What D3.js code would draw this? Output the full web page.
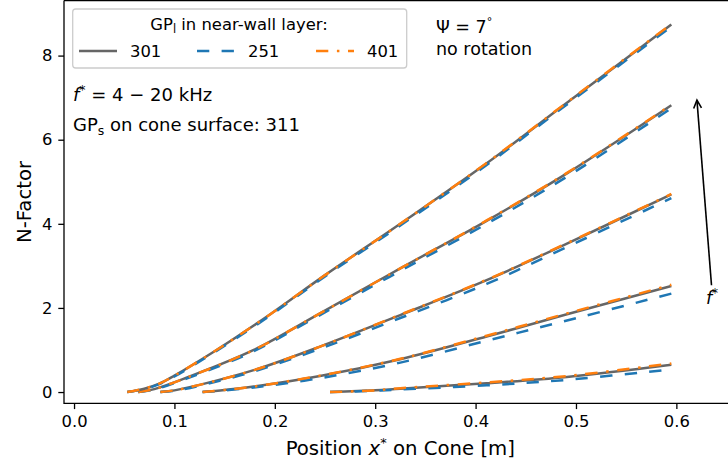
<!DOCTYPE html>
<html>
<head>
<meta charset="utf-8">
<script src="https://cdn.jsdelivr.net/npm/d3@7"></script>
<style>
body { margin: 0; background: #fff; }
text { font-family: "DejaVu Sans", sans-serif; fill: #000; }
</style>
</head>
<body>
<script>
// tick values
const xTicks = [0.0, 0.1, 0.2, 0.3, 0.4, 0.5, 0.6];
const yTicks = [0, 2, 4, 6, 8];

// legend entries: grid points in near-wall layer
const gpLabels = ["301", "251", "401"];
const gpColors = ["#666666", "#1f77b4", "#ff7f0e"];
const gpDashes = [null, "12.3,12.3", "12.3,8.6,2.5,8.6"];

// N-factor curves, one per frequency (lowest f* first -> highest)
const xPos1 = [0.255, 0.30, 0.325, 0.411, 0.491, 0.595];
const n301_1 = [0, 0.04, 0.08, 0.21, 0.36, 0.65];
const n251_1 = [0, 0.03, 0.06, 0.16, 0.29, 0.54];
const n401_1 = [0, 0.04, 0.09, 0.23, 0.38, 0.68];

const xPos2 = [0.128, 0.15, 0.179, 0.245, 0.325, 0.411, 0.491, 0.595];
const n301_2 = [0, 0.05, 0.13, 0.38, 0.78, 1.32, 1.85, 2.52];
const n251_2 = [0, 0.04, 0.11, 0.33, 0.70, 1.22, 1.70, 2.34];
const n401_2 = [0, 0.05, 0.13, 0.39, 0.79, 1.34, 1.87, 2.55];

const xPos3 = [0.086, 0.10, 0.125, 0.179, 0.245, 0.325, 0.411, 0.491, 0.595];
const n301_3 = [0, 0.04, 0.17, 0.52, 1.08, 1.83, 2.66, 3.53, 4.70];
const n251_3 = [0, 0.03, 0.15, 0.49, 1.03, 1.76, 2.57, 3.45, 4.61];
const n401_3 = [0, 0.04, 0.17, 0.52, 1.08, 1.84, 2.67, 3.54, 4.71];

const xPos4 = [0.064, 0.08, 0.112, 0.179, 0.245, 0.325, 0.411, 0.491, 0.595];
const n301_4 = [0, 0.07, 0.34, 1.00, 1.87, 2.94, 4.07, 5.20, 6.82];
const n251_4 = [0, 0.06, 0.32, 0.97, 1.83, 2.88, 4.00, 5.12, 6.75];
const n401_4 = [0, 0.07, 0.34, 1.00, 1.87, 2.94, 4.08, 5.21, 6.83];

const xPos5 = [0.053, 0.07, 0.085, 0.10, 0.14, 0.19, 0.25, 0.325, 0.41, 0.49, 0.595];
const n301_5 = [0, 0.08, 0.2, 0.39, 0.97, 1.76, 2.78, 4.00, 5.42, 6.86, 8.74];
const n251_5 = [0, 0.07, 0.19, 0.37, 0.95, 1.73, 2.75, 3.96, 5.38, 6.82, 8.69];
const n401_5 = [0, 0.08, 0.2, 0.39, 0.97, 1.76, 2.78, 4.00, 5.43, 6.87, 8.75];

const curves = [
    {x: xPos1, s: [n301_1, n251_1, n401_1]},
    {x: xPos2, s: [n301_2, n251_2, n401_2]},
    {x: xPos3, s: [n301_3, n251_3, n401_3]},
    {x: xPos4, s: [n301_4, n251_4, n401_4]},
    {x: xPos5, s: [n301_5, n251_5, n401_5]}
];

function main(){
    let width = 728, height = 468;
    let left = 64, top = 0.5, right = 736.6, bottom = 403.4;

    let svg = d3.select("body").append("svg")
        .attr("width", width)
        .attr("height", height);

    let x = d3.scaleLinear().domain([-0.01, 0.66]).range([left, right]);
    let y = d3.scaleLinear().domain([-0.27, 9.31]).range([bottom, top]);

    svg.append("clipPath").attr("id", "plotclip")
        .append("rect")
        .attr("x", left).attr("y", top)
        .attr("width", right - left).attr("height", bottom - top);

    // axes
    let xAxis = svg.append("g")
        .attr("transform", "translate(0," + bottom + ")")
        .call(d3.axisBottom(x).tickValues(xTicks).tickFormat(d3.format(".1f"))
            .tickSize(5.7).tickPadding(6.5));
    let yAxis = svg.append("g")
        .attr("transform", "translate(" + left + ",0)")
        .call(d3.axisLeft(y).tickValues(yTicks).tickFormat(d3.format("d"))
            .tickSize(5.7).tickPadding(6));
    [xAxis, yAxis].forEach(function(a){
        a.select(".domain").remove();
        a.selectAll(".tick line").attr("stroke", "#000").attr("stroke-width", 1.3);
        a.selectAll(".tick text")
            .attr("font-family", "DejaVu Sans")
            .attr("font-size", 16.4)
            .attr("fill", "#000");
    });

    // lines
    let line = d3.line()
        .x(function(d) { return x(d[0]); })
        .y(function(d) { return y(d[1]); })
        .curve(d3.curveCatmullRom.alpha(0.5));

    let plot = svg.append("g").attr("clip-path", "url(#plotclip)");
    curves.forEach(function(c){
        c.s.forEach(function(vals, k){
            let pts = c.x.map(function(v, i){ return [v, vals[i]]; });
            plot.append("path")
                .attr("d", line(pts))
                .attr("fill", "none")
                .attr("stroke", gpColors[k])
                .attr("stroke-width", 2.5)
                .attr("stroke-dasharray", gpDashes[k]);
        });
    });

    // spines
    svg.append("path")
        .attr("d", "M" + left + "," + top + "H" + (width + 5) +
            "M" + left + "," + top + "V" + bottom + "H" + (width + 5))
        .attr("fill", "none")
        .attr("stroke", "#000")
        .attr("stroke-width", 1.3);

    // axis labels
    let xl = svg.append("text")
        .attr("x", (left + right) / 2)
        .attr("y", 455)
        .attr("text-anchor", "middle")
        .attr("font-size", 19.7);
    xl.append("tspan").text("Position ");
    xl.append("tspan").attr("font-style", "italic").text("x");
    xl.append("tspan").attr("font-size", 13).attr("dy", -8).text("*");
    xl.append("tspan").attr("dy", 8).text(" on Cone [m]");

    svg.append("text")
        .attr("transform", "translate(30.5," + (top + bottom) / 2 + ") rotate(-90)")
        .attr("text-anchor", "middle")
        .attr("font-size", 19.7)
        .text("N-Factor");

    // legend
    let lg = svg.append("g");
    lg.append("rect")
        .attr("x", 72.7).attr("y", 9)
        .attr("width", 334).attr("height", 59)
        .attr("rx", 3)
        .attr("fill", "#fff").attr("fill-opacity", 0.8)
        .attr("stroke", "#cccccc").attr("stroke-width", 1.3);
    let lt = lg.append("text")
        .attr("x", 239).attr("y", 29.5)
        .attr("text-anchor", "middle")
        .attr("font-size", 16.4);
    lt.append("tspan").text("GP");
    lt.append("tspan").attr("font-size", 11.5).attr("dy", 3).text("l");
    lt.append("tspan").attr("dy", -3).text(" in near-wall layer:");

    let entryX = [79, 197, 316];
    gpLabels.forEach(function(lab, k){
        lg.append("line")
            .attr("x1", entryX[k]).attr("x2", entryX[k] + 38)
            .attr("y1", 51).attr("y2", 51)
            .attr("stroke", gpColors[k])
            .attr("stroke-width", 2.5)
            .attr("stroke-dasharray", gpDashes[k]);
        lg.append("text")
            .attr("x", entryX[k] + 51).attr("y", 57)
            .attr("font-size", 16.4)
            .text(lab);
    });

    // annotations
    let t1 = svg.append("text").attr("x", 73).attr("y", 101).attr("font-size", 18);
    t1.append("tspan").attr("font-style", "italic").text("f");
    t1.append("tspan").attr("font-size", 12.5).attr("dy", -7).text("*");
    t1.append("tspan").attr("dy", 7).text(" = 4 \u2212 20 kHz");

    let t2 = svg.append("text").attr("x", 73).attr("y", 131).attr("font-size", 18);
    t2.append("tspan").text("GP");
    t2.append("tspan").attr("font-size", 12.5).attr("dy", 3.5).text("s");
    t2.append("tspan").attr("dy", -3.5).text(" on cone surface: 311");

    let t3 = svg.append("text").attr("x", 436).attr("y", 33).attr("font-size", 17.5);
    t3.append("tspan").text("\u03A8 = 7");
    t3.append("tspan").attr("font-size", 11).attr("dy", -8).text("\u00B0");

    svg.append("text").attr("x", 436).attr("y", 54.5).attr("font-size", 17.5)
        .text("no rotation");

    // arrow for increasing f*
    let tail = [x(0.635), y(2.54)], head = [x(0.6205), y(6.94)];
    let ang = Math.atan2(head[1] - tail[1], head[0] - tail[0]);
    let hl = 9, ha = 0.45;
    svg.append("line")
        .attr("x1", tail[0]).attr("y1", tail[1])
        .attr("x2", head[0]).attr("y2", head[1])
        .attr("stroke", "#000").attr("stroke-width", 1.6);
    svg.append("path")
        .attr("d", "M" + (head[0] - hl * Math.cos(ang - ha)) + "," + (head[1] - hl * Math.sin(ang - ha)) +
            "L" + head[0] + "," + head[1] +
            "L" + (head[0] - hl * Math.cos(ang + ha)) + "," + (head[1] - hl * Math.sin(ang + ha)))
        .attr("fill", "none").attr("stroke", "#000").attr("stroke-width", 1.6);

    let fl = svg.append("text").attr("x", 712).attr("y", 304)
        .attr("text-anchor", "middle").attr("font-size", 17.5);
    fl.append("tspan").attr("font-style", "italic").text("f");
    fl.append("tspan").attr("font-size", 12).attr("dy", -7).text("*");
}

main();
</script>
</body>
</html>
